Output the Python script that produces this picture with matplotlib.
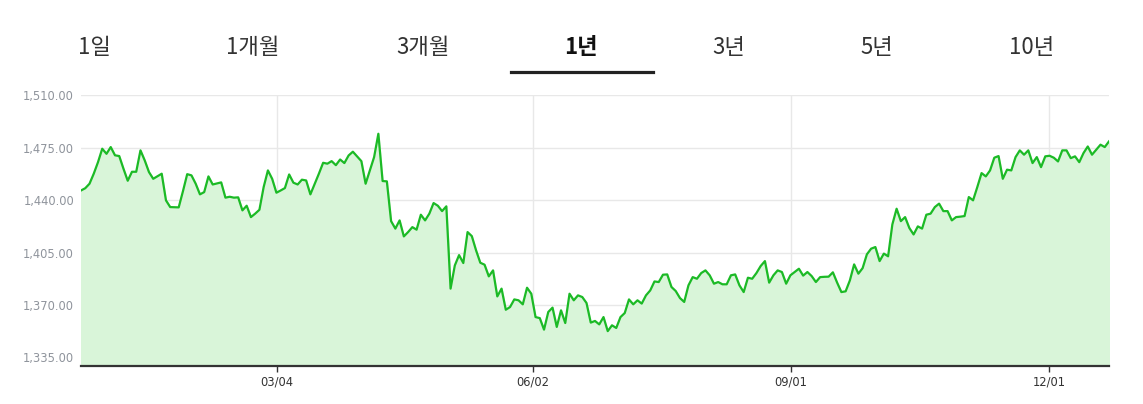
import pandas as pd
import matplotlib
matplotlib.use("Agg")
import matplotlib.pyplot as plt
import matplotlib.dates as mdates
from matplotlib.ticker import FuncFormatter
from matplotlib.lines import Line2D

plt.rcParams['font.family'] = ['Noto Sans CJK KR', 'DejaVu Sans']

# tab labels on top, the 4th one is the active tab
tabs = ['1일', '1개월', '3개월', '1년', '3년', '5년', '10년']
active_tab = '1년'

start_date = '2024-12-25'
end_date = '2025-12-22'

# daily-ish closing values (left to right)
values = [
    1446.5, 1448.0, 1451.0, 1457.7, 1465.4, 1474.4, 1471.0, 1475.5, 1470.0, 1469.5,
    1461.0, 1453.0, 1459.0, 1459.0, 1473.3, 1466.6, 1458.8, 1454.3, 1456.0, 1457.7,
    1439.9, 1435.4, 1435.3, 1435.2, 1446.0, 1457.4, 1456.6, 1451.0, 1443.9, 1445.4,
    1455.9, 1450.5, 1451.2, 1451.9, 1441.7, 1442.3, 1441.7, 1441.9, 1433.2, 1436.3,
    1428.7, 1431.0, 1433.6, 1448.8, 1459.9, 1454.3, 1445.0, 1446.5, 1448.1, 1457.2,
    1451.7, 1450.5, 1453.7, 1453.2, 1443.9, 1450.8, 1457.7, 1465.0, 1464.4, 1466.1,
    1463.4, 1467.2, 1464.8, 1469.9, 1472.4, 1469.3, 1466.1, 1451.0, 1459.9, 1468.8,
    1484.4, 1452.8, 1452.6, 1426.0, 1421.0, 1426.5, 1415.8, 1418.7, 1422.0, 1420.3,
    1430.3, 1426.5, 1431.0, 1438.1, 1436.3, 1432.7, 1435.9, 1380.9, 1396.4, 1403.3,
    1398.0, 1418.7, 1416.0, 1406.5, 1398.2, 1396.9, 1389.1, 1393.1, 1375.7, 1380.9,
    1366.8, 1368.6, 1373.7, 1373.1, 1370.4, 1381.5, 1377.5, 1361.9, 1361.2, 1353.5,
    1365.3, 1368.2, 1355.3, 1366.4, 1357.9, 1377.5, 1373.1, 1376.4, 1375.3, 1371.3,
    1358.2, 1359.3, 1357.0, 1361.9, 1352.5, 1356.4, 1354.6, 1361.9, 1364.6, 1373.7,
    1370.4, 1373.1, 1370.9, 1376.4, 1379.7, 1385.7, 1385.3, 1390.2, 1390.4, 1382.0,
    1379.3, 1374.6, 1372.0, 1383.1, 1388.6, 1387.5, 1391.3, 1393.1, 1389.8, 1384.2,
    1385.3, 1383.8, 1383.8, 1389.8, 1390.4, 1383.1, 1378.6, 1388.2, 1387.5, 1391.3,
    1396.0, 1399.3, 1384.9, 1389.8, 1393.1, 1392.0, 1384.2, 1389.8, 1392.0, 1394.2,
    1389.6, 1392.0, 1389.3, 1385.3, 1388.6, 1388.8, 1388.9, 1391.8, 1384.9, 1378.6,
    1379.1, 1386.4, 1397.1, 1390.9, 1394.6, 1403.8, 1407.6, 1408.7, 1399.3, 1404.3,
    1402.5, 1423.8, 1434.3, 1426.0, 1428.7, 1421.4, 1417.1, 1422.5, 1421.0, 1430.3,
    1431.0, 1435.4, 1437.7, 1432.7, 1432.7, 1426.5, 1428.7, 1429.0, 1429.4, 1442.1,
    1439.9, 1448.8, 1458.1, 1455.9, 1459.9, 1468.4, 1469.5, 1454.3, 1460.4, 1459.9,
    1468.8, 1473.3, 1470.4, 1473.3, 1464.8, 1468.8, 1462.1, 1469.3, 1469.7, 1468.4,
    1465.9, 1473.3, 1473.3, 1468.1, 1469.3, 1465.4, 1471.5, 1475.9, 1470.4, 1473.7,
    1477.1, 1475.5, 1479.3,
]

tick_dates = ['2025-03-04', '2025-06-02', '2025-09-01', '2025-12-01']
y_ticks = [1335, 1370, 1405, 1440, 1475, 1510]

dates = pd.date_range(start_date, end_date, periods=len(values))

fig = plt.figure(figsize=(11.43, 4.04), dpi=100)
ax = fig.add_axes([81 / 1143, 1 - 365.7 / 404, 1028 / 1143, (365.7 - 95) / 404])

ax.fill_between(dates, values, 1300, color='#d9f5d9', zorder=1)
ax.plot(dates, values, color='#1cba26', linewidth=1.6, zorder=3)

ax.set_xlim(dates[0], dates[-1])
ax.set_ylim(1329.4, 1510.3)

ax.set_yticks(y_ticks)
ax.yaxis.set_major_formatter(FuncFormatter(lambda v, p: f'{v:,.2f}'))
ax.set_xticks(pd.to_datetime(tick_dates))
ax.xaxis.set_major_formatter(mdates.DateFormatter('%m/%d'))

ax.grid(True, color='#e8e8e8', linewidth=1, zorder=0)
ax.set_axisbelow(True)

for side in ['top', 'right', 'left']:
    ax.spines[side].set_visible(False)
ax.spines['bottom'].set_color('#333333')
ax.spines['bottom'].set_linewidth(1.6)
ax.spines['bottom'].set_zorder(4)

ax.tick_params(axis='y', length=0, pad=5, labelsize=8.3, labelcolor='#8f949c')
ax.tick_params(axis='x', length=4, width=1, color='#333333', pad=3,
               labelsize=8.3, labelcolor='#333333')
for lbl in ax.get_xticklabels() + ax.get_yticklabels():
    lbl.set_family('DejaVu Sans')

# tab bar
tab_x = [94, 253, 423, 581, 729, 877, 1032]
for label, x in zip(tabs, tab_x):
    if label == active_tab:
        fig.text(x / 1143, 1 - 47 / 404, label, ha='center', va='center',
                 fontsize=16, fontweight='bold', color='#111111')
    else:
        fig.text(x / 1143, 1 - 47 / 404, label, ha='center', va='center',
                 fontsize=16, color='#333333')

fig.add_artist(Line2D([511 / 1143, 653 / 1143], [1 - 72 / 404, 1 - 72 / 404],
                      color='#222222', linewidth=2.3))

fig.savefig('out.png', dpi=100)
